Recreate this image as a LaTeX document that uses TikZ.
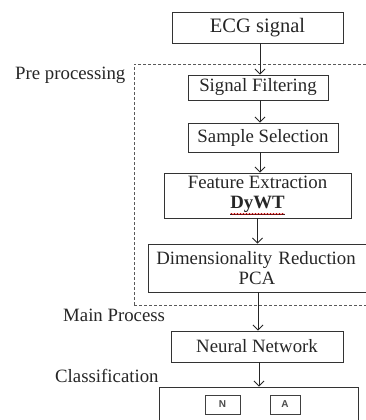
\documentclass[tikz,border=0pt]{standalone}
\usepackage{fontspec}
\setmainfont{Liberation Serif}
\newfontfamily\arialf{Liberation Sans}
\usetikzlibrary{arrows.meta,decorations.pathmorphing,calc}
\begin{document}
\begin{tikzpicture}[x=1pt,y=-1pt,
  box/.style={draw=black!80, line width=0.9pt, fill=white, inner sep=0pt, align=center,
    font=\fontsize{18.8}{20}\selectfont, text=black!85},
  lbl/.style={anchor=base west, inner sep=0pt, font=\fontsize{18.8}{20}\selectfont, text=black!85},
  arr/.style={draw=black!85, line width=0.8pt, -{Straight Barb[length=5pt,width=10pt]}},
  cls/.style={draw=black!75, line width=0.9pt, inner sep=0pt, fill=white,
    font=\arialf\bfseries\fontsize{10}{12}\selectfont, text=black!70},
  prebox/.style={draw=black!65, line width=0.8pt, dash pattern=on 3pt off 2pt, inner sep=0pt}
]
\useasboundingbox (0,0) rectangle (366,420);
\clip (0,0) rectangle (366,420);

% dashed pre-processing region
\node[prebox, minimum width=238pt, minimum height=241pt] (pre) at (253,184.5) {};

% boxes
\node[box, minimum width=171pt, minimum height=31pt, font=\fontsize{20.5}{22}\selectfont] (ecg) at (257.5,27.5) {ECG signal};
\node[box, minimum width=140pt, minimum height=25pt] (sf) at (258,87.5) {Signal Filtering};
\node[box, minimum width=150pt, minimum height=29pt] (ss) at (263,137.5) {Sample Selection};
\node[box, minimum width=187pt, minimum height=45pt] (fe) at (257.5,195.5) {Feature Extraction\\\underline{\textbf{DyWT}}};
\node[box, minimum width=222pt, minimum height=48pt, text width=222pt] (dr) at (259,268) {\hspace*{-6pt}Dimensionality Reduction\\\hspace*{-4pt}PCA};
\node[box, minimum width=172pt, minimum height=31pt] (nn) at (257,346.5) {Neural Network};
\node[box, minimum width=199pt, minimum height=60pt] (cl) at (258.5,417) {};
\node[cls, minimum width=35pt, minimum height=19pt] (n) at (222.5,404.5) {N};
\node[cls, minimum width=30pt, minimum height=19pt] (a) at (285,404.5) {A};

% red spell-check squiggle under DyWT
\draw[red!80!black, line width=0.5pt, decorate, decoration={snake,amplitude=0.7pt,segment length=3pt}]
  ($(fe.center)+(-27,18.5)$) -- ($(fe.center)+(27,18.5)$);

% labels
\node[lbl] (lpre) at (15,79) {Pre processing};
\node[lbl] (lmain) at (63,321) {Main Process};
\node[lbl] (lcls) at (55,382) {Classification};

% arrows
\draw[arr] ($(ecg.south)+(2.5,0)$) -- ($(ecg.south |- sf.north)+(2.5,0)$);
\draw[arr] ($(sf.south)+(2,0)$) -- ($(sf.south |- ss.north)+(2,0)$);
\draw[arr] ($(ss.south)+(-3,0)$) -- ($(ss.south |- fe.north)+(-3,0)$);
\draw[arr] (fe.south) -- (fe.south |- dr.north);
\draw[arr] ($(dr.south)+(-1,0)$) -- ($(dr.south |- nn.north)+(-1,0)$);
\draw[arr] ($(nn.south)+(2,0)$) -- ($(nn.south |- cl.north)+(2,0)$);
\end{tikzpicture}
\end{document}
